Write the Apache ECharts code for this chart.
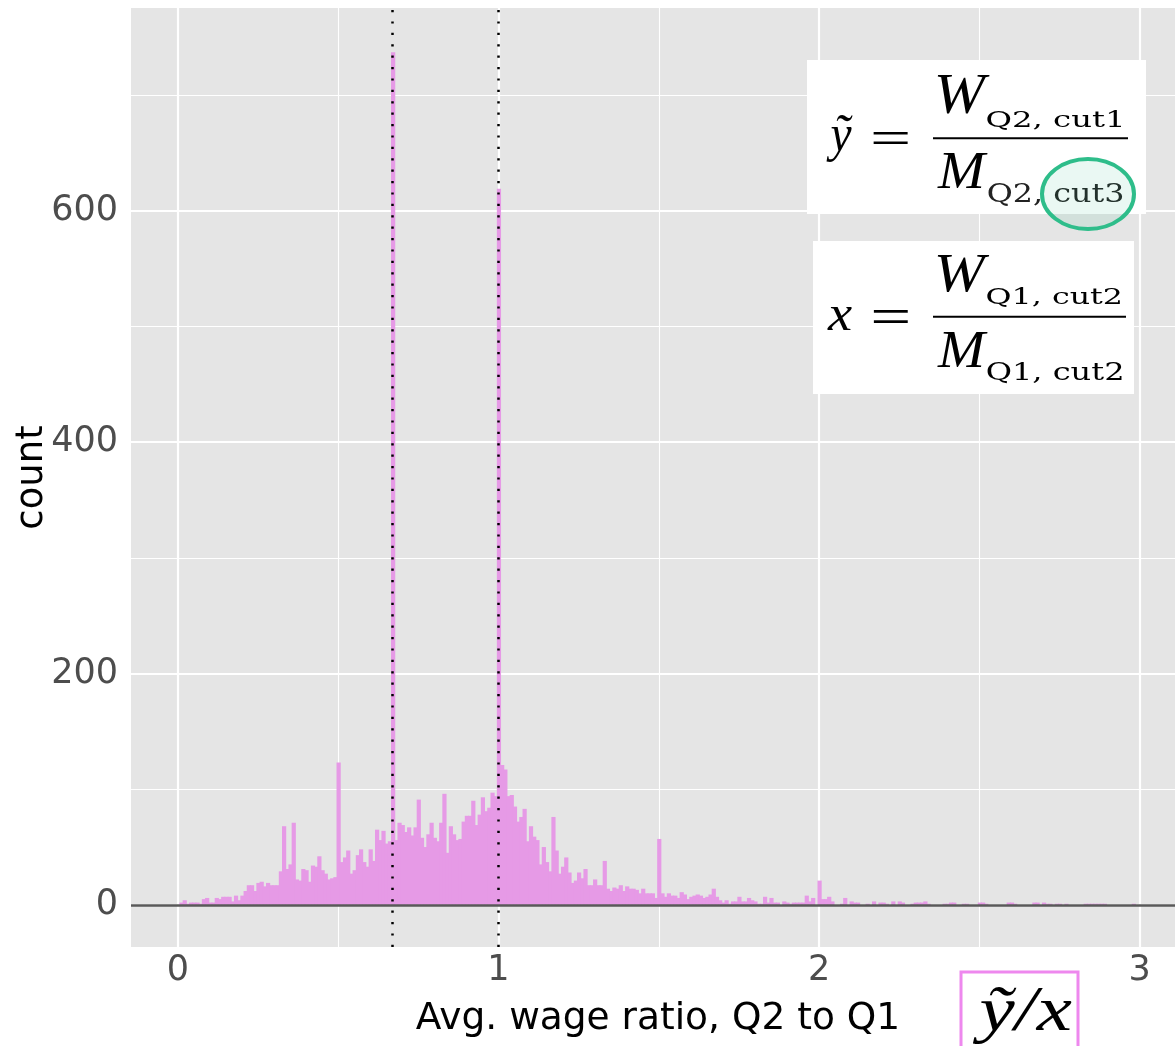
<!DOCTYPE html>
<html><head><meta charset="utf-8">
<script src="https://cdn.jsdelivr.net/npm/echarts@6/dist/echarts.min.js"></script>
<style>html,body{margin:0;padding:0;background:#fff}#c{width:1175px;height:1046px}</style>
</head><body><div id="c"></div>
<script>
// ---- data ----
const binWidth = 0.01;          // histogram bin width (bins centred on multiples of 0.01)
const counts = [
  0,2,4,1,2,2,2,1,5,6,
  2,2,6,5,7,7,7,3,8,4,
  8,12,17,17,12,19,20,16,19,17,
  17,17,29,68,31,35,71,22,21,31,
  30,20,34,33,42,30,27,22,23,24,
  123,37,41,47,27,30,43,48,37,33,
  48,38,65,56,64,53,55,737,56,71,
  69,63,67,60,67,91,58,50,61,71,
  58,55,71,96,45,68,61,56,57,72,
  77,77,90,69,78,93,81,84,97,94,
  619,121,117,94,95,85,72,76,83,55,
  68,59,56,35,50,37,29,76,47,27,
  33,41,28,19,21,28,23,31,17,17,
  22,17,17,38,14,12,15,14,17,12,
  16,14,14,13,10,14,10,10,10,6,
  57,10,7,10,8,8,6,11,9,5,
  7,8,9,8,6,7,9,14,7,4,
  2,4,1,3,3,7,3,3,6,4,
  3,1,1,7,2,6,2,2,0,3,
  2,1,2,2,2,2,8,3,6,0,
  21,5,5,7,3,0,0,1,6,0,
  3,2,2,0,0,1,0,3,0,2,
  2,1,0,3,0,3,2,0,0,1,
  2,2,2,3,1,0,0,0,0,1,
  1,2,2,0,0,1,1,0,0,0,
  2,2,1,0,0,0,0,0,0,2,
  2,1,0,0,0,0,0,2,2,0,
  2,1,1,0,1,1,0,1,0,0,
  0,0,0,1,1,1,1,1,1,1,
  0,0,0,0,0,0,0,0,1,0
];
const xTicks = [0, 1, 2, 3];
const xMinorGrid = [0.5, 1.5, 2.5];
const yTicks = [0, 200, 400, 600];
const yMinorGrid = [100, 300, 500, 700];
const refLines = [2/3, 1];
const xLimits = [-0.146, 3.110];
const yLimits = [-36.4, 775.2];
const xTitle = 'Avg. wage ratio, Q2 to Q1';
const yTitle = 'count';

// ---- styles ----
const panelBg = '#E5E5E5';
const barColor = '#E69AE6';
const tickFont = 'DejaVu Sans';

const histData = counts.map((c, i) => [i * binWidth, c]);

// text placement helper (annotation formulas)
const mctx = document.createElement('canvas').getContext('2d');
function fitText(text, style, family, box, fill, z) {
  const ref = 100;
  mctx.font = `${style} ${ref}px "${family}"`;
  mctx.textBaseline = 'alphabetic';
  let m = mctx.measureText(text);
  const size = ref * (box.B - box.T) / (m.actualBoundingBoxAscent + m.actualBoundingBoxDescent);
  mctx.font = `${style} ${size}px "${family}"`;
  mctx.textBaseline = 'alphabetic';
  const ma = mctx.measureText(text);
  mctx.textBaseline = 'middle';
  const mm = mctx.measureText(text);
  const off = ma.actualBoundingBoxAscent - mm.actualBoundingBoxAscent;
  const baseline = box.T + ma.actualBoundingBoxAscent;
  const w = ma.actualBoundingBoxLeft + ma.actualBoundingBoxRight;
  const sx = (box.R - box.L) / w;
  return {
    type: 'text', x: box.L + ma.actualBoundingBoxLeft * sx, y: baseline - off,
    scaleX: sx, z: z || 20, silent: true,
    style: { text: text, fontFamily: family, fontStyle: style === 'italic' ? 'italic' : 'normal',
             fontSize: size, fill: fill || '#000', align: 'left', verticalAlign: 'middle' }
  };
}
const SER = 'Liberation Serif';
const SUB = 'DejaVu Serif';

const graphics = [
  { type: 'rect', shape: { x: 807, y: 60, width: 339, height: 154 }, style: { fill: '#fff' }, z: 15, silent: true },
  { type: 'rect', shape: { x: 813, y: 241, width: 321, height: 153 }, style: { fill: '#fff' }, z: 15, silent: true },
  fitText('\u1EF9', 'italic', SER, { L: 826, R: 853, T: 115, B: 162 }),
  fitText('=', 'normal', SER, { L: 873, R: 908, T: 131.5, B: 143.5 }),
  fitText('W', 'italic', SER, { L: 937, R: 990, T: 75, B: 113 }),
  fitText('Q2, cut1', 'normal', SUB, { L: 987, R: 1121, T: 110, B: 130 }),
  { type: 'line', shape: { x1: 933, y1: 138.3, x2: 1128, y2: 138.3 }, style: { stroke: '#000', lineWidth: 2 }, z: 20, silent: true },
  fitText('M', 'italic', SER, { L: 937, R: 988, T: 153, B: 188 }),
  fitText('Q2, cut3', 'normal', SUB, { L: 988, R: 1123, T: 183, B: 206 }, '#222'),
  fitText('x', 'italic', SER, { L: 827, R: 852, T: 307, B: 330 }),
  fitText('=', 'normal', SER, { L: 873, R: 908, T: 309.5, B: 322.5 }),
  fitText('W', 'italic', SER, { L: 937, R: 990, T: 255, B: 292 }),
  fitText('Q1, cut2', 'normal', SUB, { L: 987, R: 1120, T: 287, B: 307 }),
  { type: 'line', shape: { x1: 933, y1: 316.7, x2: 1126, y2: 316.7 }, style: { stroke: '#000', lineWidth: 2 }, z: 20, silent: true },
  fitText('M', 'italic', SER, { L: 937, R: 988, T: 332, B: 367 }),
  fitText('Q1, cut2', 'normal', SUB, { L: 987, R: 1122, T: 362, B: 383 }),
  { type: 'ellipse', shape: { cx: 1088, cy: 194, rx: 46, ry: 35 },
    style: { fill: 'rgba(46,189,138,0.10)', stroke: '#2EBD8A', lineWidth: 4 }, z: 25, silent: true },
  { type: 'rect', shape: { x: 961, y: 972, width: 117, height: 90 },
    style: { fill: 'none', stroke: '#EE88EE', lineWidth: 3 }, z: 20, silent: true },
  fitText('\u1EF9/x', 'italic', SER, { L: 972, R: 1072, T: 987, B: 1043 })
];

const chart = echarts.init(document.getElementById('c'), null, { renderer: 'canvas' });
chart.setOption({
  animation: false,
  backgroundColor: '#fff',
  grid: { left: 131, right: 0, top: 8, bottom: 99, show: true, backgroundColor: panelBg, borderWidth: 0,
          containLabel: false, outerBoundsMode: 'none' },
  xAxis: {
    type: 'value', min: xLimits[0], max: xLimits[1],
    axisLine: { show: false },
    axisTick: { show: true, customValues: xTicks, length: 6, lineStyle: { color: '#333', width: 2 } },
    axisLabel: { customValues: xTicks, fontSize: 35, color: '#4D4D4D', fontFamily: tickFont, margin: 6 },
    splitLine: { show: false },
    name: xTitle, nameLocation: 'middle', nameGap: 53, nameMoveOverlap: false,
    nameTextStyle: { fontSize: 37.5, color: '#000', fontFamily: tickFont, padding: [0, 0, 0, 10] }
  },
  yAxis: {
    type: 'value', min: yLimits[0], max: yLimits[1],
    axisLine: { show: false },
    axisTick: { show: true, customValues: yTicks, length: 6, lineStyle: { color: '#333', width: 2 } },
    axisLabel: { customValues: yTicks, fontSize: 35, color: '#4D4D4D', fontFamily: tickFont, margin: 13 },
    splitLine: { show: false },
    name: yTitle, nameLocation: 'middle', nameGap: 80, nameMoveOverlap: false,
    nameTextStyle: { fontSize: 37, color: '#000', fontFamily: tickFont }
  },
  series: [
    {
      type: 'line', data: [], silent: true,
      markLine: {
        silent: true, symbol: ['none', 'none'], z: 1, label: { show: false }, animation: false,
        data: [
          ...xMinorGrid.map(v => ({ xAxis: v, lineStyle: { color: '#fff', width: 1.1, type: 'solid' } })),
          ...yMinorGrid.map(v => ({ yAxis: v, lineStyle: { color: '#fff', width: 1.1, type: 'solid' } })),
          ...xTicks.map(v => ({ xAxis: v, lineStyle: { color: '#fff', width: 2.2, type: 'solid' } })),
          ...yTicks.map(v => ({ yAxis: v, lineStyle: { color: '#fff', width: 2.2, type: 'solid' } }))
        ]
      }
    },
    {
      type: 'custom', z: 2, silent: true, data: histData,
      renderItem: function (params, api) {
        const x = api.value(0), c = api.value(1);
        if (!c) return null;
        const p0 = api.coord([x - binWidth / 2, 0]);
        const p1 = api.coord([x + binWidth / 2, c]);
        return { type: 'rect', shape: { x: p0[0], y: p1[1], width: p1[0] - p0[0] + 1, height: p0[1] - p1[1] },
                 style: { fill: barColor } };
      }
    },
    {
      type: 'line', data: [], silent: true,
      markLine: {
        silent: true, symbol: ['none', 'none'], z: 5, label: { show: false }, animation: false,
        data: [
          { yAxis: 0, lineStyle: { color: '#595959', width: 2.5, type: 'solid' } },
          ...refLines.map(v => ({ xAxis: v, lineStyle: { color: '#000', width: 2.5, type: [2.2, 9.2] } }))
        ]
      }
    }
  ],
  graphic: graphics
});
</script></body></html>
